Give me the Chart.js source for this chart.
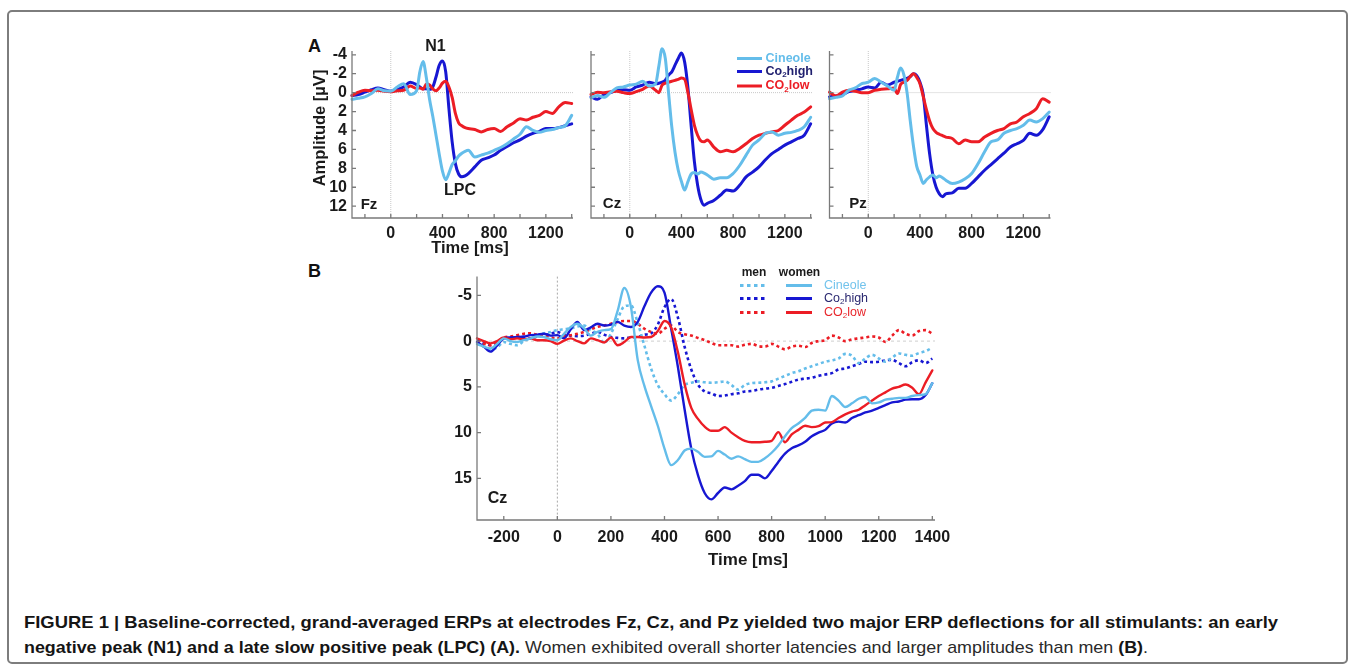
<!DOCTYPE html>
<html>
<head>
<meta charset="utf-8">
<script src="https://cdn.jsdelivr.net/npm/chart.js@4.4.1/dist/chart.umd.min.js"></script>
<style>
  body { margin: 0; width: 1355px; height: 666px; background: #fff; position: relative; overflow: hidden; font-family: "Liberation Sans", Arial, sans-serif; }
  #frame { position: absolute; left: 7px; top: 10px; width: 1337px; height: 650px; border: 2px solid #7d7d7d; border-radius: 5px; }
  canvas { position: absolute; }
  .lab { position: absolute; font-weight: bold; font-size: 18px; line-height: 18px; color: #111; }
  .cap { position: absolute; left: 24px; white-space: nowrap; font-family: "Liberation Sans Narrow", "Arial Narrow", "Liberation Sans", sans-serif; font-size: 17px; line-height: 20px; color: #2a2a2a; transform-origin: 0 50%; }
  .cap b { color: #151515; }
</style>
</head>
<body>
<div id="frame"></div>
<div class="lab" style="left:308px;top:37px">A</div>
<div class="lab" style="left:308px;top:262px">B</div>

<canvas id="fz" width="280" height="232" style="left:300px;top:30px"></canvas>
<canvas id="cz" width="240" height="232" style="left:580px;top:30px"></canvas>
<canvas id="pz" width="240" height="232" style="left:818px;top:30px"></canvas>
<canvas id="cz2" width="560" height="310" style="left:400px;top:262px"></canvas>

<div class="cap" id="cap1" style="top:613px"><b>FIGURE 1 | Baseline-corrected, grand-averaged ERPs at electrodes Fz, Cz, and Pz yielded two major ERP deflections for all stimulants: an early</b></div>
<div class="cap" id="cap2" style="top:638px"><b>negative peak (N1) and a late slow positive peak (LPC) (A).</b> Women exhibited overall shorter latencies and larger amplitudes than men <b>(B)</b>.</div>

<script>
const FONT = '"Liberation Sans", Arial, sans-serif';
const C_CIN = '#64bdea';
const C_HIGH = '#1717d2';
const C_LOW = '#ec1d25';

// panel A: time points (ms) and amplitudes (µV), negative up
const tA = [-300, -250, -200, -150, -100, -50, 0, 50, 100, 150, 200,
  225, 250, 275, 300, 325, 350, 375, 400, 425, 450, 475, 500, 525, 550, 575, 600,
  650, 700, 750, 800, 850, 900, 950, 1000, 1050, 1100, 1150, 1200, 1250, 1300, 1350, 1400];

const fzCineole = [0.7, 0.6, 0.45, 0.1, -0.4, -0.2, -0.15, -0.6, -0.95, 0.2, -0.2,
  -2.2, -3.3, -1.6, 0.7, 2.5, 4.5, 6.5, 8.3, 9.2, 8.5, 7.6, 7.2, 6.7, 6.4, 6.2, 6.1,
  6.8, 6.6, 6.4, 6.1, 5.8, 5.4, 4.9, 4.4, 3.6, 4.0, 4.2, 4.0, 3.9, 3.7, 3.5, 2.4];
const fzHigh = [0.3, 0.2, -0.05, -0.3, -0.5, -0.3, -0.15, -0.35, -0.6, -1.1, -0.85,
  -0.6, -0.4, -0.4, -0.35, -0.6, -1.65, -2.9, -3.35, -2.2, 1.7, 5.2, 7.5, 8.6, 8.9, 8.8, 8.55,
  7.85, 7.15, 6.9, 6.6, 6.1, 5.7, 5.3, 5.0, 4.6, 4.3, 4.1, 3.8, 3.8, 3.7, 3.5, 3.3];
const fzLow = [0.3, -0.05, -0.25, -0.2, -0.25, -0.15, -0.1, -0.2, -0.25, -0.7, -0.45,
  -0.5, -0.35, -0.9, -0.8, -0.4, -0.2, -0.5, -1.0, -1.2, -0.6, 0.5, 2.2, 3.2, 3.5, 3.7, 3.8,
  3.9, 4.15, 3.9, 3.8, 4.1, 3.6, 3.2, 2.75, 2.9, 2.6, 2.4, 2.0, 2.2, 1.5, 1.05, 1.15];

const czCineole = [0.55, 0.3, 0.5, 0.0, -0.5, -0.6, -0.8, -0.9, -1.2, -0.7, -0.95,
  -2.8, -4.65, -3.6, 0.0, 3.6, 6.3, 8.2, 9.4, 10.3, 9.4, 8.6, 8.45, 8.6, 8.4, 8.5, 8.7,
  9.15, 9.0, 9.0, 8.55, 7.7, 6.6, 5.55, 5.0, 4.3, 4.15, 4.5, 4.3, 4.2, 4.0, 3.6, 2.6];
const czHigh = [0.45, 0.7, 0.2, 0.0, -0.25, -0.3, -0.25, -0.6, -0.8, -1.1, -0.95,
  -1.0, -1.1, -1.3, -1.85, -2.2, -2.9, -3.6, -4.2, -3.2, -0.5, 3.5, 7.3, 9.8, 11.3, 11.9, 11.7,
  11.4, 10.85, 10.3, 10.4, 9.8, 8.9, 8.4, 7.85, 7.1, 6.45, 6.0, 5.55, 5.2, 4.85, 4.5, 3.3];
const czLow = [0.2, -0.05, 0.0, -0.1, -0.15, 0.0, 0.1, -0.1, -0.35, -0.7, -0.25,
  0.0, -0.8, -1.0, -1.1, -1.2, -1.3, -1.4, -1.55, -1.4, 0.0, 1.8, 3.45, 4.5, 5.1, 5.2, 5.0,
  5.75, 6.25, 6.1, 6.25, 5.9, 5.4, 4.85, 4.5, 4.3, 4.15, 4.0, 3.45, 2.9, 2.4, 2.05, 1.5];

const pzCineole = [0.65, 0.5, 0.35, -0.25, -0.5, -0.95, -1.1, -1.5, -1.1, -0.7, -0.25,
  -1.6, -2.6, -1.9, 0.0, 3.0, 5.7, 7.8, 8.7, 9.6, 9.2, 8.9, 8.7, 9.0, 8.8, 9.0, 9.25,
  9.6, 9.45, 9.1, 8.55, 7.5, 6.25, 5.2, 5.0, 4.3, 4.0, 3.8, 3.45, 2.9, 3.1, 2.75, 2.05];
const pzHigh = [0.45, 0.35, 0.2, -0.1, -0.25, -0.4, -0.6, -0.5, -1.1, -0.8, -1.1,
  -1.2, -1.3, -1.4, -1.5, -1.7, -2.0, -1.8, -1.1, 0.2, 3.45, 6.5, 8.7, 10.0, 10.7, 11.0, 10.7,
  10.6, 10.1, 10.1, 9.6, 8.9, 8.2, 7.6, 7.0, 6.4, 5.75, 5.4, 5.05, 4.3, 4.5, 3.9, 2.55];
const pzLow = [-0.05, 0.35, -0.05, -0.25, -0.15, 0.0, 0.0, -0.25, -0.35, -0.4, -0.5,
  0.1, -0.85, -1.1, -1.3, -1.7, -2.0, -1.6, -0.95, 0.4, 1.8, 3.0, 3.8, 4.2, 4.4, 4.55, 4.7,
  4.85, 5.4, 5.0, 5.2, 5.2, 4.7, 4.3, 4.0, 3.8, 3.3, 3.1, 2.55, 2.2, 1.7, 0.65, 1.0];

// panel B: Cz, women (solid) vs men (dotted)
const tB = [-300, -275, -250, -225, -200, -175, -150, -125, -100, -75, -50, -25, 0, 25, 50, 75, 100, 125, 150, 175,
  200, 225, 250, 275, 300, 325, 350, 375, 400, 425, 450, 475, 500, 525, 550, 575, 600, 625, 650, 675,
  700, 725, 750, 775, 800, 825, 850, 875, 900, 925, 950, 975, 1000, 1025, 1050, 1075, 1100, 1125, 1150, 1175,
  1200, 1225, 1250, 1275, 1300, 1325, 1350, 1375, 1400];

const womenCineole = [0.3, 0.6, 0.8, 0.3, -0.3, 0.0, 0.1, -0.1, -0.3, -0.5,
  -0.45, -0.2, -0.1, -0.8, -1.55, -1.9, -1.4, -0.6, -1.0, -1.2,
  -1.3, -3.3, -5.8, -3.7, 2.05, 4.9, 7.1, 9.25, 11.75, 13.55,
  13.0, 11.95, 11.75, 12.1, 12.65, 12.6, 12.0, 12.4, 12.85, 12.6,
  12.9, 13.2, 13.2, 12.8, 12.2, 11.4, 10.4, 9.5, 9.0, 8.4,
  7.6, 7.5, 7.6, 6.0, 6.5, 7.2, 6.8, 6.3, 6.1, 6.8,
  6.7, 6.4, 6.3, 6.2, 6.2, 6.0, 5.9, 5.8, 4.6];
const womenHigh = [0.1, 0.6, 1.15, 0.5, -0.3, -0.4, -0.45, -0.5, -0.65, -0.7,
  -0.8, -0.6, -0.65, -0.3, -1.3, -2.1, -1.2, -1.5, -1.9, -1.7,
  -1.8, -2.1, -1.7, -1.55, -2.1, -3.8, -5.3, -6.0, -5.3, -1.35,
  2.8, 7.45, 11.75, 14.65, 16.6, 17.3, 16.6, 16.0, 16.2, 15.8,
  15.3, 14.6, 14.6, 15.0, 14.2, 13.2, 12.3, 11.7, 11.4, 11.0,
  10.4, 10.0, 9.7, 9.0, 8.8, 8.9, 8.4, 8.1, 7.8, 7.6,
  7.3, 7.0, 6.7, 6.6, 6.4, 6.35, 6.35, 5.9, 4.6];
const womenLow = [-0.3, 0.0, 0.25, 0.0, -0.4, -0.2, -0.3, -0.2, -0.3, -0.1,
  -0.1, 0.0, 0.3, -0.05, -0.3, 0.0, 0.25, -0.3, -0.1, 0.15,
  -0.4, 0.45, 0.1, -0.45, -0.45, -0.4, -0.45, -1.1, -2.2, -1.5,
  1.2, 4.7, 7.3, 8.5, 9.35, 9.8, 9.8, 9.4, 10.0, 10.5,
  10.9, 11.05, 11.05, 11.0, 10.9, 9.95, 11.05, 10.2, 9.7, 9.25,
  9.4, 9.3, 8.9, 8.85, 8.4, 8.0, 7.7, 7.5, 7.0, 6.5,
  6.0, 5.6, 5.2, 5.0, 4.75, 5.1, 5.8, 4.5, 3.2];
const menCineole = [0.3, 0.6, 0.95, 0.7, 0.1, 0.3, 0.45, 0.0, -0.3, -0.6,
  -0.85, -1.0, -1.2, -1.3, -1.4, -1.6, -1.7, -1.2, -0.8, 0.2,
  -0.8, -2.4, -3.8, -3.9, -2.0, 0.5, 3.0, 4.8, 5.8, 6.5,
  5.8, 4.8, 4.55, 4.4, 4.5, 4.55, 4.5, 4.4, 4.8, 5.3,
  4.8, 4.6, 4.55, 4.5, 4.4, 4.1, 3.8, 3.5, 3.3, 3.0,
  2.75, 2.5, 2.25, 2.1, 1.9, 1.4, 1.6, 2.4, 1.9, 1.5,
  1.9, 2.25, 1.8, 1.35, 1.5, 1.6, 1.3, 1.1, 0.7];
const menHigh = [-0.1, 0.2, 0.45, 0.1, -0.3, -0.4, -0.45, -0.4, -0.3, -0.5,
  -0.65, -0.8, -1.0, -0.7, -0.6, -0.55, -0.6, -0.8, -1.0, -0.7,
  -0.45, -0.35, -0.3, -0.4, -0.45, -0.7, -0.85, -1.8, -3.7, -4.6,
  -2.6, 0.6, 3.1, 4.75, 5.5, 5.7, 6.0, 5.95, 5.8, 5.7,
  5.5, 5.45, 5.3, 5.2, 5.1, 4.9, 4.7, 4.45, 4.2, 4.1,
  4.0, 3.8, 3.65, 3.5, 3.1, 3.0, 2.75, 2.5, 2.25, 2.3,
  2.25, 2.1, 2.05, 2.4, 2.75, 2.3, 2.1, 2.4, 1.9];
const menLow = [0.1, 0.3, 0.45, 0.1, -0.4, -0.5, -0.65, -0.8, -0.85, -0.7,
  -0.65, -0.4, -0.3, -0.5, -0.65, -0.8, -1.0, -1.3, -1.55, -1.7,
  -1.9, -2.1, -2.2, -2.2, -1.9, -1.35, -1.0, -0.8, -1.35, -1.7,
  -1.0, -0.75, -0.6, -0.35, -0.1, 0.2, 0.45, 0.45, 0.45, 0.6,
  0.4, 0.3, 0.55, 0.6, 0.3, 0.6, 0.9, 0.6, 0.5, 0.65,
  0.2, 0.0, -0.1, -0.6, -0.4, 0.0, -0.2, -0.3, -0.4, -0.5,
  -0.4, 0.1, -0.6, -1.2, -0.8, -0.6, -1.1, -1.2, -0.8];

const xTicks = [-200, 0, 200, 400, 600, 800, 1000, 1200, 1400];
const xLabelsA = [0, 400, 800, 1200];
const xLabelsB = xTicks;
const yTicksA = [-4, -2, 0, 2, 4, 6, 8, 10, 12];
const yTicksB = [-5, 0, 5, 10, 15];
const stimuli = ['Cineole', 'Co₂high', 'CO₂low'];

function pts(times, vals) {
  return vals.map((v, i) => ({ x: times[i], y: v }));
}

function line(data, color, width, dash) {
  return {
    data, borderColor: color, borderWidth: width, borderDash: dash || [],
    borderCapStyle: dash ? 'butt' : 'round', borderJoinStyle: 'round',
    pointRadius: 0, fill: false, clip: false, cubicInterpolationMode: 'monotone'
  };
}

// text with a ₂ drawn as a small lowered 2
function richText(ctx, str, x, y, size, weight, color) {
  ctx.fillStyle = color;
  ctx.textAlign = 'left';
  ctx.textBaseline = 'middle';
  let cx = x;
  str.split(/(₂)/).forEach(part => {
    if (!part) return;
    if (part === '₂') {
      ctx.font = `${weight} ${Math.round(size * 0.62)}px ${FONT}`;
      ctx.fillText('2', cx, y + size * 0.28);
      cx += ctx.measureText('2').width;
    } else {
      ctx.font = `${weight} ${size}px ${FONT}`;
      ctx.fillText(part, cx, y);
      cx += ctx.measureText(part).width;
    }
  });
}

const decor = {
  id: 'decor',
  beforeDatasetsDraw(chart, args, o) {
    const { ctx, chartArea: a, scales: { x, y } } = chart;
    const y0 = y.getPixelForValue(0), x0 = x.getPixelForValue(0);
    ctx.save();
    ctx.lineWidth = 1;
    ctx.strokeStyle = o.hZero.color;
    ctx.setLineDash(o.hZero.dash);
    ctx.beginPath(); ctx.moveTo(a.left, y0); ctx.lineTo(a.right, y0); ctx.stroke();
    ctx.strokeStyle = o.vZero.color;
    ctx.setLineDash(o.vZero.dash);
    ctx.beginPath(); ctx.moveTo(x0, a.top); ctx.lineTo(x0, a.bottom); ctx.stroke();
    ctx.restore();
  },
  afterDatasetsDraw(chart, args, o) {
    const { ctx, chartArea: a, scales: { x, y } } = chart;
    const ox = chart.canvas.offsetLeft, oy = chart.canvas.offsetTop;
    ctx.save();
    // axes with inward ticks
    ctx.strokeStyle = '#7a7a7a';
    ctx.lineWidth = 1.3;
    ctx.beginPath();
    ctx.moveTo(a.left, a.top); ctx.lineTo(a.left, a.bottom); ctx.lineTo(a.right, a.bottom);
    x.ticks.forEach(t => { const px = x.getPixelForValue(t.value); ctx.moveTo(px, a.bottom); ctx.lineTo(px, a.bottom - 4); });
    y.ticks.forEach(t => { const py = y.getPixelForValue(t.value); ctx.moveTo(a.left, py); ctx.lineTo(a.left + 4, py); });
    ctx.stroke();

    (o.texts || []).forEach(t => {
      ctx.save();
      ctx.translate(t.x - ox, t.y - oy);
      if (t.rot) ctx.rotate(t.rot);
      ctx.font = `${t.weight || 'bold'} ${t.size}px ${FONT}`;
      ctx.fillStyle = t.color || '#1a1a1a';
      ctx.textAlign = 'center';
      ctx.textBaseline = 'middle';
      ctx.fillText(t.text, 0, 0);
      ctx.restore();
    });

    (o.legend || []).forEach(e => {
      e.samples.forEach(s => {
        ctx.strokeStyle = e.color;
        ctx.lineWidth = s.width;
        ctx.lineCap = 'butt';
        ctx.setLineDash(s.dash || []);
        ctx.beginPath(); ctx.moveTo(s.x1 - ox, e.y - oy); ctx.lineTo(s.x2 - ox, e.y - oy); ctx.stroke();
      });
      ctx.setLineDash([]);
      richText(ctx, e.text, e.tx - ox, e.y - oy, e.size, e.weight, e.textColor);
    });
    ctx.restore();
  }
};

function erpChart(id, c) {
  return new Chart(document.getElementById(id), {
    type: 'line',
    data: { datasets: c.datasets },
    options: {
      responsive: false,
      animation: false,
      events: [],
      layout: { padding: c.pad },
      plugins: { legend: { display: false }, tooltip: { enabled: false }, decor: c.decor },
      scales: {
        x: {
          type: 'linear', min: -300, max: 1410,
          grid: { display: false, drawTicks: false }, border: { display: false },
          afterFit: s => { s.height = c.xh; },
          afterBuildTicks: s => { s.ticks = xTicks.map(v => ({ value: v })); },
          ticks: {
            autoSkip: false, maxRotation: 0, padding: c.xpad, color: '#1a1a1a',
            font: { family: FONT, size: 16, weight: 'bold' },
            callback: v => c.xLabels.includes(v) ? String(v) : ''
          }
        },
        y: {
          type: 'linear', reverse: true, min: c.ymin, max: c.ymax,
          grid: { display: false, drawTicks: false }, border: { display: false },
          afterFit: s => { s.width = c.yw; },
          afterBuildTicks: s => { s.ticks = c.yTicks.map(v => ({ value: v })); },
          ticks: {
            display: c.yLabels, autoSkip: false, padding: 5, color: '#1a1a1a',
            font: { family: FONT, size: 16, weight: 'bold' },
            callback: v => String(v)
          }
        }
      }
    },
    plugins: [decor]
  });
}

const zeroA = { hZero: { color: '#c8c8c8', dash: [1, 1] }, vZero: { color: '#c8c8c8', dash: [1, 1] } };

function panelA(id, cin, high, low, yw, padR, yLabels, texts, legend) {
  return erpChart(id, {
    datasets: [
      line(pts(tA, cin), C_CIN, 3),
      line(pts(tA, low), C_LOW, 3),
      line(pts(tA, high), C_HIGH, 3)
    ],
    pad: { top: 21, right: padR, left: 0, bottom: 0 },
    xh: 44, xpad: 6, yw, ymin: -4.4, ymax: 13.25,
    yTicks: yTicksA, yLabels, xLabels: xLabelsA,
    decor: Object.assign({ texts, legend }, zeroA)
  });
}

panelA('fz', fzCineole, fzHigh, fzLow, 52, 7, true, [
  { text: 'N1', x: 435.5, y: 47, size: 16 },
  { text: 'LPC', x: 460, y: 190.5, size: 16 },
  { text: 'Fz', x: 369, y: 204.5, size: 15 },
  { text: 'Amplitude [µV]', x: 320, y: 128, size: 16.5, rot: -Math.PI / 2 },
  { text: 'Time [ms]', x: 470, y: 248, size: 16.5 }
], []);

const legendA = stimuli.map((name, i) => ({
  text: name, y: [58.5, 71.5, 86][i], tx: 765.5, size: 12.5, weight: 'bold',
  color: [C_CIN, C_HIGH, C_LOW][i], textColor: [C_CIN, '#1f1f6e', C_LOW][i],
  samples: [{ x1: 737, x2: 762, width: 3 }]
}));

panelA('cz', czCineole, czHigh, czLow, 11, 8, false, [
  { text: 'Cz', x: 612, y: 204, size: 15 }
], legendA);

panelA('pz', pzCineole, pzHigh, pzLow, 11.5, 7.5, false, [
  { text: 'Pz', x: 858, y: 204, size: 15 }
], []);

const legendB = stimuli.map((name, i) => ({
  text: name, y: [285.5, 298.5, 312.5][i], tx: 824, size: 12.5, weight: 'normal',
  color: [C_CIN, C_HIGH, C_LOW][i], textColor: ['#72c3ec', '#2a2870', '#e8262b'][i],
  samples: [{ x1: 740, x2: 765, width: 3, dash: [3.5, 3.5] }, { x1: 786, x2: 812, width: 3 }]
}));

erpChart('cz2', {
  datasets: [
    line(pts(tB, womenCineole), C_CIN, 2.4),
    line(pts(tB, womenLow), C_LOW, 2.4),
    line(pts(tB, womenHigh), C_HIGH, 2.4),
    line(pts(tB, menCineole), C_CIN, 2.6, [3, 3]),
    line(pts(tB, menLow), C_LOW, 2.6, [3, 3]),
    line(pts(tB, menHigh), C_HIGH, 2.6, [3, 3])
  ],
  pad: { top: 11, right: 25, left: 0, bottom: 0 },
  xh: 52, xpad: 8, yw: 77, ymin: -7.05, ymax: 19.55,
  yTicks: yTicksB, yLabels: true, xLabels: xLabelsB,
  decor: {
    hZero: { color: '#cfcfcf', dash: [3, 3] },
    vZero: { color: '#a8a8a8', dash: [2, 2] },
    texts: [
      { text: 'Cz', x: 497.5, y: 499, size: 16 },
      { text: 'Time [ms]', x: 748, y: 560, size: 17 },
      { text: 'men', x: 754, y: 272.5, size: 12 },
      { text: 'women', x: 799.5, y: 272.5, size: 12 }
    ],
    legend: legendB
  }
});

// fit caption lines to the measured widths of the original
function fitLine(id, width) {
  const el = document.getElementById(id);
  const w = el.getBoundingClientRect().width;
  el.style.transform = `scaleX(${width / w})`;
}
fitLine('cap1', 1254);
fitLine('cap2', 1124);
</script>
</body>
</html>
